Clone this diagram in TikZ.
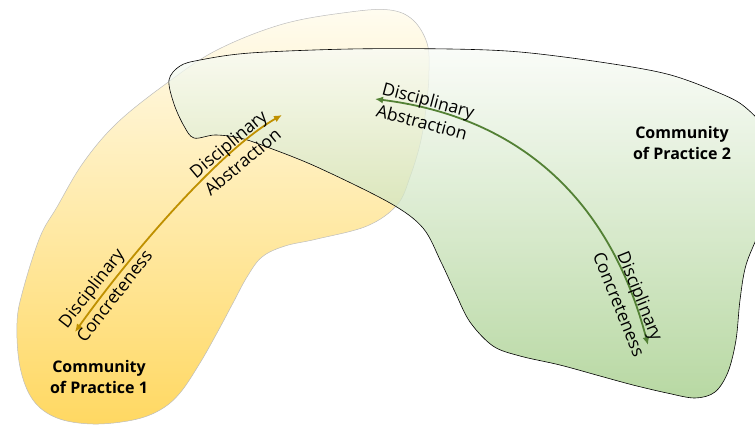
\documentclass[tikz,border=0pt]{standalone}
\usepackage{fontspec}
\setmainfont{Open Sans}
\usetikzlibrary{arrows.meta}

\definecolor{ytop}{HTML}{FFFCF0}
\definecolor{ybot}{HTML}{FFD862}
\definecolor{gtop}{HTML}{F8FBF6}
\definecolor{gbot}{HTML}{A0CB84}
\definecolor{yline}{HTML}{BF9000}
\definecolor{gline}{HTML}{538135}
\definecolor{yedge}{HTML}{BDBDBD}

\tikzset{
  lbl/.style={font=\fontsize{17.5}{23}\selectfont, inner sep=0pt},
  cop/.style={font=\bfseries\fontsize{16}{21}\selectfont, align=center, inner sep=0pt},
  yarrow/.style={draw=yline, line width=1.8pt, {Latex[length=8pt,width=7pt]}-{Latex[length=8pt,width=7pt]}},
  garrow/.style={draw=gline, line width=1.8pt, {Latex[length=8pt,width=7pt]}-{Latex[length=8pt,width=7pt]}},
}

\begin{document}
\begin{tikzpicture}[x=1pt,y=-1pt]
\useasboundingbox (0,0) rectangle (755,424);
\clip (0,0) rectangle (755,424);

% community 1 (yellow blob)
\shadedraw[top color=ytop, bottom color=ybot, draw=yedge, line width=0.5pt]
  plot[smooth cycle, tension=0.6] coordinates {
    (167,83) (217,50) (283,24) (350,12) (390,10) (413,20) (427,43) (429,70)
    (427,100) (421,140) (410,177) (397,205) (367,226) (317,239) (285,246)
    (262,257) (247,277) (233,303) (217,333) (200,363) (180,393) (160,410)
    (133,420) (93,424) (57,418) (33,400) (20,367) (17,323) (23,290)
    (40,237) (57,207) (83,163) (117,123)
  };

% community 2 (green blob), running past the right border
\shadedraw[top color=gtop, bottom color=gbot, fill opacity=0.75, draw=black, line width=0.6pt]
  plot[smooth cycle, tension=0.55] coordinates {
    (169,80) (180,66) (200,60) (250,53) (350,49) (450,49) (520,52)
    (600,62) (667,74) (717,92) (745,107) (768,135) (776,185) (760,230)
    (746,265) (740,300) (736,340) (728,372) (715,392) (695,398) (667,393)
    (633,385) (600,376) (560,365) (520,356) (493,346) (470,322) (455,292)
    (441,262) (423,228) (390,203) (317,167) (267,147) (240,138) (215,135)
    (194,138) (184,126) (174,104)
  };

% abstraction / concreteness axes
\coordinate (ya) at (75,332);
\coordinate (yb) at (282,115);
\draw[yarrow] (ya) .. controls (130,255) and (220,150) .. (yb);

\coordinate (ga) at (375,99);
\coordinate (gb) at (648,345);
\draw[garrow] (ga) .. controls (520,117) and (610,200) .. (gb);

% axis labels
\node[lbl, rotate=40, align=left] (yab) at (235.5,152.5) {Disciplinary\\Abstraction};
\node[lbl, rotate=52, align=left] (ycon) at (105,288.5) {Disciplinary\\Concreteness};
\node[lbl, rotate=-15, align=left] (gab) at (425.5,111) {Disciplinary\\Abstraction};
\node[lbl, rotate=-68, align=center] (gcon) at (630,300) {Disciplinary\\Concreteness};

% community names
\node[cop] (c1) at (99,377) {Community\\of Practice 1};
\node[cop] (c2) at (682,143) {Community\\of Practice 2};
\end{tikzpicture}
\end{document}
